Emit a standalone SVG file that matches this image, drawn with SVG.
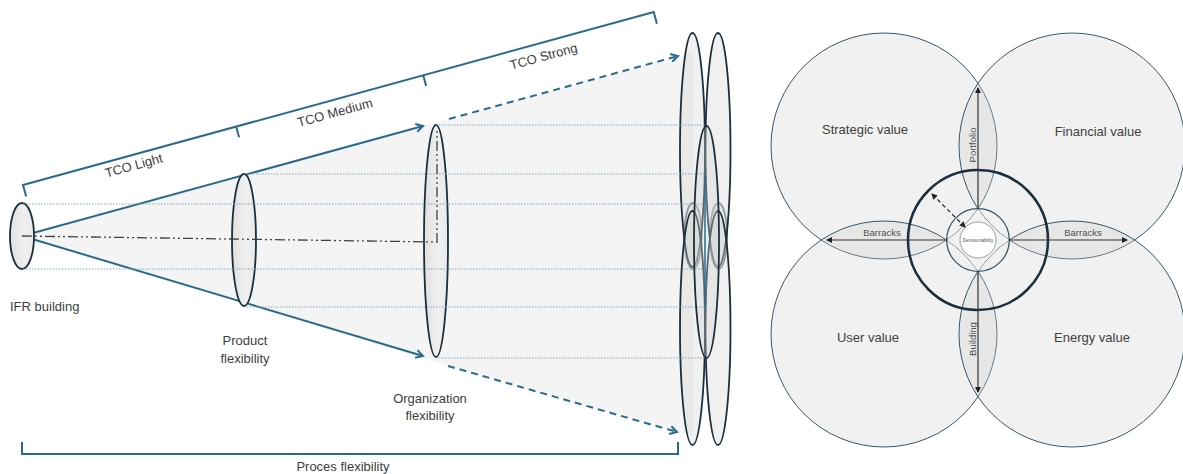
<svg xmlns="http://www.w3.org/2000/svg" width="1183" height="474" viewBox="0 0 1183 474">
  <defs>
    <style>
      .lbl{font-family:"Liberation Sans",Arial,sans-serif;font-size:13px;fill:#404040}
      .sm{font-family:"Liberation Sans",Arial,sans-serif;font-size:9.5px;fill:#505050}
      .blue{stroke:#2a6b8c;stroke-width:2;fill:none}
      .dash{stroke-dasharray:7 5}
      .dot{stroke:#7fa7bd;stroke-width:1;stroke-dasharray:1.5 1.5;fill:none}
      .ell{fill:url(#eg);stroke:#1a2f3b;stroke-width:1.8}
      .cl{fill:#d4d4d4;fill-opacity:0.35;stroke:#1a2f3b;stroke-width:1.8}
      .big{fill:#d0d0d0;fill-opacity:0.3;stroke:#3b5767;stroke-width:1}
      .ax{stroke:#333;stroke-width:1.2;fill:none}
    </style>
    <linearGradient id="eg" x1="0" x2="1" y1="0" y2="0">
      <stop offset="0" stop-color="#e0e0e0"/>
      <stop offset="0.6" stop-color="#f0f0f0"/>
      <stop offset="1" stop-color="#e8e8e8"/>
    </linearGradient>
    <marker id="chev" markerWidth="10" markerHeight="10" refX="8" refY="5" orient="auto" markerUnits="userSpaceOnUse">
      <path d="M1,1 L8,5 L1,9" fill="none" stroke="#2a6b8c" stroke-width="2"/>
    </marker>
    <marker id="tri" markerWidth="6" markerHeight="6" refX="5" refY="3" orient="auto-start-reverse" markerUnits="userSpaceOnUse">
      <path d="M0,0 L6,3 L0,6 z" fill="#222"/>
    </marker>
  </defs>

  <rect width="1183" height="474" fill="#ffffff"/>

  <!-- flexibility cone: shaded volume -->
  <polygon points="22,236 449,119 693,52 693,436 448,366" fill="#f4f4f4"/>

  <!-- connectors -->
  <g id="connectors">
    <!-- TCO bracket along the top -->
    <g transform="translate(23,185) rotate(-15.33)">
      <path class="blue" d="M0,12 L0,0 L654,0 L654,12 M221,0 V11 M415,0 V11"/>
      <text class="lbl" x="112" y="15" text-anchor="middle">TCO Light</text>
      <text class="lbl" x="320" y="17" text-anchor="middle">TCO Medium</text>
      <text class="lbl" x="536" y="18" text-anchor="middle">TCO Strong</text>
    </g>
    <!-- process bracket along the bottom -->
    <path class="blue" d="M22,442 V454 H678 V442"/>
    <!-- cone edges -->
    <path class="blue" d="M22,236 L423,126" marker-end="url(#chev)"/>
    <path class="blue" d="M22,236 L423,356" marker-end="url(#chev)"/>
    <path class="blue dash" d="M449,119 L678,56" marker-end="url(#chev)"/>
    <path class="blue dash" d="M448,366 L677,432" marker-end="url(#chev)"/>
  </g>

  <!-- stacked value circles seen edge-on -->
  <g id="cluster">
    <ellipse class="cl" cx="693" cy="236" rx="8.7" ry="33" stroke-width="1.3" stroke-opacity="0.6"/>
    <ellipse class="cl" cx="718.5" cy="236" rx="8.7" ry="33" stroke-width="1.3" stroke-opacity="0.6"/>
    <ellipse class="cl" cx="692.5" cy="150" rx="12.5" ry="117"/>
    <ellipse class="cl" cx="718" cy="150" rx="12.5" ry="117"/>
    <ellipse class="cl" cx="692.5" cy="328" rx="12.5" ry="117"/>
    <ellipse class="cl" cx="718" cy="328" rx="12.5" ry="117"/>
    <ellipse class="cl" cx="706.5" cy="242" rx="12.5" ry="116"/>
    <line x1="705" y1="174" x2="705" y2="307" stroke="#2a6b8c" stroke-width="1.5"/>
  </g>

  <g id="ifr-building">
    <ellipse class="ell" cx="22" cy="236" rx="12" ry="33"/>
    <text class="lbl" x="10" y="311">IFR building</text>
  </g>

  <g id="product-flexibility">
    <ellipse class="ell" cx="244" cy="240" rx="12" ry="66"/>
    <text class="lbl" x="245" y="345" text-anchor="middle">Product</text>
    <text class="lbl" x="245" y="363" text-anchor="middle">flexibility</text>
  </g>

  <g id="organization-flexibility">
    <ellipse class="ell" cx="436" cy="241" rx="12" ry="116"/>
    <text class="lbl" x="430" y="403" text-anchor="middle">Organization</text>
    <text class="lbl" x="430" y="420" text-anchor="middle">flexibility</text>
  </g>

  <g id="proces-flexibility">
    <text class="lbl" x="343" y="471" text-anchor="middle">Proces flexibility</text>
  </g>

  <!-- projection guides and axis -->
  <g id="guides">
    <path class="dot" d="M23,204 H705 M23,269 H705 M244,174 H705 M244,307 H705 M436,125 H705 M436,358 H705"/>
    <path d="M22,236 L437,242 L437,128" fill="none" stroke="#404040" stroke-width="1.3" stroke-dasharray="10 3 2 3 2 3"/>
  </g>

  <!-- value model -->
  <g id="strategic-value">
    <circle class="big" cx="884" cy="146" r="113"/>
    <text class="lbl" x="865" y="134" text-anchor="middle">Strategic value</text>
  </g>
  <g id="financial-value">
    <circle class="big" cx="1072" cy="146" r="113"/>
    <text class="lbl" x="1098" y="136" text-anchor="middle">Financial value</text>
  </g>
  <g id="user-value">
    <circle class="big" cx="884" cy="334" r="113"/>
    <text class="lbl" x="868" y="342" text-anchor="middle">User value</text>
  </g>
  <g id="energy-value">
    <circle class="big" cx="1072" cy="334" r="113"/>
    <text class="lbl" x="1092" y="342" text-anchor="middle">Energy value</text>
  </g>

  <g id="core">
    <path d="M978,208.7 A113,113 0 0 1 946.7,240 A113,113 0 0 1 978,271.3 A113,113 0 0 1 1009.3,240 A113,113 0 0 1 978,208.7 Z" fill="#f1f1f1"/>
    <circle cx="978" cy="240" r="70" fill="none" stroke="#1a2f3b" stroke-width="2.5"/>
    <circle cx="978" cy="240" r="31.3" fill="none" stroke="#3b5767" stroke-width="1.3"/>
    <circle cx="978" cy="240" r="18" fill="#ffffff" stroke="#888" stroke-width="0.8"/>
    <text x="978" y="241.6" text-anchor="middle" font-family="Liberation Sans, Arial, sans-serif" font-size="4.6" fill="#555">Demountability</text>
  </g>

  <g id="scale-axes">
    <path class="ax" d="M978,209 L978,88" marker-end="url(#tri)"/>
    <path class="ax" d="M978,271 L978,392" marker-end="url(#tri)"/>
    <path class="ax" d="M947,240 L827,240" marker-end="url(#tri)"/>
    <path class="ax" d="M1009,240 L1127,240" marker-end="url(#tri)"/>
    <path d="M965,227 L932,194" fill="none" stroke="#222" stroke-width="1.2" stroke-dasharray="4 3" marker-start="url(#tri)" marker-end="url(#tri)"/>
    <text class="sm" x="882" y="235.5" text-anchor="middle">Barracks</text>
    <text class="sm" x="1083" y="235.5" text-anchor="middle">Barracks</text>
    <text class="sm" transform="translate(975.5,145) rotate(-90)" text-anchor="middle" font-size="10">Portfolio</text>
    <text class="sm" transform="translate(975.5,339) rotate(-90)" text-anchor="middle" font-size="10">Building</text>
  </g>
</svg>
